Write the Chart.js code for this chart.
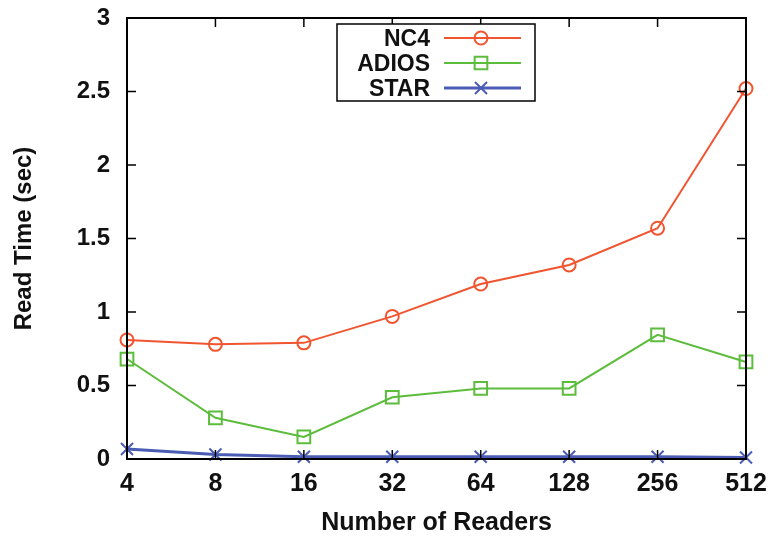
<!DOCTYPE html>
<html>
<head>
<meta charset="utf-8">
<script src="https://cdn.jsdelivr.net/npm/chart.js@4/dist/chart.umd.min.js"></script>
<style>
  html, body { margin: 0; padding: 0; background: #fff; }
  #wrap { width: 770px; height: 536px; }
</style>
</head>
<body>
<div id="wrap"><canvas id="c" width="770" height="536"></canvas></div>
<script>
// Read time versus number of readers for three I/O back ends
const readers = ['4', '8', '16', '32', '64', '128', '256', '512'];
const nc4   = [0.81, 0.78, 0.79, 0.97, 1.19, 1.32, 1.57, 2.52];
const adios = [0.68, 0.28, 0.15, 0.42, 0.48, 0.48, 0.845, 0.66];
const star  = [0.068, 0.03, 0.015, 0.015, 0.015, 0.015, 0.015, 0.01];
const yTicks = [0, 0.5, 1, 1.5, 2, 2.5, 3];

const FONT = '"Liberation Sans", Arial, Helvetica, sans-serif';
const RED = '#f05530', GREEN = '#5cbc3c', BLUE = '#4b5cb4';

// Gnuplot-style frame: full border, inward ticks mirrored on all four sides
const framePlugin = {
  id: 'frame',
  afterDatasetsDraw(chart) {
    const { ctx, chartArea: a, scales: { x, y } } = chart;
    ctx.save();
    ctx.strokeStyle = '#000';
    ctx.lineWidth = 2;
    ctx.strokeRect(a.left, a.top, a.right - a.left, a.bottom - a.top);
    ctx.lineWidth = 1.5;
    const t = 9;
    ctx.beginPath();
    readers.forEach((_, i) => {
      const px = x.getPixelForValue(i);
      ctx.moveTo(px, a.bottom); ctx.lineTo(px, a.bottom - t);
      ctx.moveTo(px, a.top); ctx.lineTo(px, a.top + t);
    });
    yTicks.forEach(v => {
      const py = y.getPixelForValue(v);
      ctx.moveTo(a.left, py); ctx.lineTo(a.left + t, py);
      ctx.moveTo(a.right, py); ctx.lineTo(a.right - t, py);
    });
    ctx.stroke();
    ctx.restore();
  }
};

// Key box with right-aligned names and a line sample carrying the marker
const keyPlugin = {
  id: 'key',
  afterDraw(chart) {
    const { ctx } = chart;
    const box = { l: 337, t: 24, r: 535, b: 101 };
    ctx.save();
    ctx.fillStyle = '#fff';
    ctx.fillRect(box.l, box.t, box.r - box.l, box.b - box.t);
    ctx.strokeStyle = '#000';
    ctx.lineWidth = 1.5;
    ctx.strokeRect(box.l, box.t, box.r - box.l, box.b - box.t);
    chart.data.datasets.forEach((ds, i) => {
      const yy = 38 + i * 25;
      ctx.fillStyle = '#111';
      ctx.font = 'bold 23px ' + FONT;
      ctx.textAlign = 'right';
      ctx.textBaseline = 'middle';
      ctx.fillText(ds.label, 430, yy + 2);
      ctx.strokeStyle = ds.borderColor;
      ctx.lineWidth = ds.borderWidth;
      ctx.beginPath();
      ctx.moveTo(444, yy); ctx.lineTo(521, yy);
      ctx.stroke();
      ctx.fillStyle = 'rgba(0,0,0,0)';
      ctx.lineWidth = ds.pointBorderWidth;
      Chart.helpers.drawPoint(ctx, {
        pointStyle: ds.pointStyle,
        radius: ds.pointRadius,
        borderWidth: ds.pointBorderWidth,
        rotation: 0
      }, 481, yy);
    });
    ctx.restore();
  }
};

const series = (label, data, color, style, r, w) => ({
  label, data,
  borderColor: color,
  backgroundColor: 'rgba(0,0,0,0)',
  borderWidth: w,
  pointStyle: style,
  pointRadius: r,
  pointHoverRadius: r,
  pointBorderColor: color,
  pointBackgroundColor: 'rgba(0,0,0,0)',
  pointBorderWidth: 2,
  tension: 0,
  clip: false
});

// Let the layout padding alone decide where the plot frame sits
const noEdgePadding = s => {
  s.paddingTop = 0; s.paddingBottom = 0;
  s.paddingLeft = 0; s.paddingRight = 0;
};

new Chart(document.getElementById('c'), {
  type: 'line',
  data: {
    labels: readers,
    datasets: [
      series('NC4', nc4, RED, 'circle', 6.5, 2),
      series('ADIOS', adios, GREEN, 'rect', 9, 2),
      series('STAR', star, BLUE, 'crossRot', 8.5, 3)
    ]
  },
  options: {
    responsive: false,
    animation: false,
    devicePixelRatio: 1,
    layout: { padding: { top: 18, right: 24, left: 0, bottom: 0 } },
    plugins: { legend: { display: false }, tooltip: { enabled: false } },
    scales: {
      x: {
        type: 'category',
        offset: false,
        grid: { display: false, drawTicks: false },
        border: { display: false },
        ticks: {
          color: '#111',
          font: { family: FONT, size: 25, weight: 'bold' },
          padding: 10,
          maxRotation: 0,
          autoSkip: false
        },
        title: {
          display: true,
          text: 'Number of Readers',
          color: '#111',
          font: { family: FONT, size: 25, weight: 'bold', lineHeight: 1 },
          padding: { top: 0, bottom: 0 }
        },
        afterFit(s) { s.height = 77; noEdgePadding(s); }
      },
      y: {
        min: 0,
        max: 3,
        grid: { display: false, drawTicks: false },
        border: { display: false },
        afterBuildTicks(s) { s.ticks = yTicks.map(v => ({ value: v })); },
        ticks: {
          color: '#111',
          font: { family: FONT, size: 24, weight: 'bold' },
          padding: 17,
          callback: v => String(v)
        },
        title: {
          display: true,
          text: 'Read Time (sec)',
          color: '#111',
          font: { family: FONT, size: 24, weight: 'bold', lineHeight: 1 },
          padding: { top: 12, bottom: 0 }
        },
        afterFit(s) { s.width = 127; noEdgePadding(s); }
      }
    }
  },
  plugins: [framePlugin, keyPlugin]
});
</script>
</body>
</html>
